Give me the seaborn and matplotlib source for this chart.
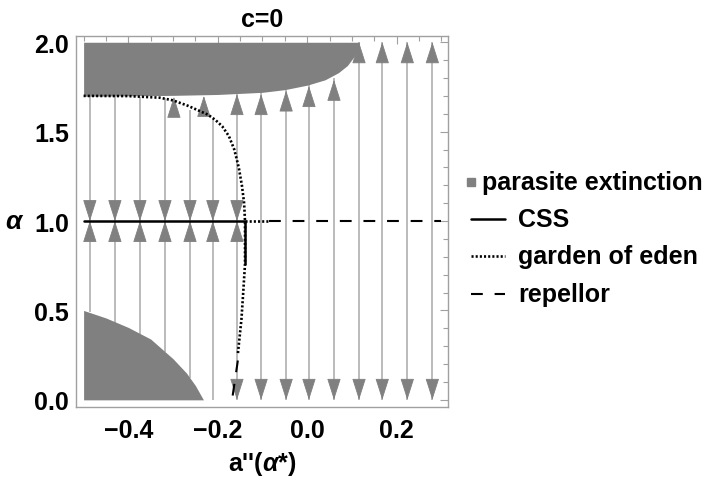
import matplotlib
matplotlib.use("Agg")
import matplotlib.pyplot as plt
from matplotlib.lines import Line2D
from matplotlib.patches import Rectangle
import seaborn as sns

# --- shaded "parasite extinction" regions ---
top_x = [-0.5, -0.3, -0.2, -0.1, -0.05, 0.0, 0.04, 0.07, 0.09, 0.105, 0.113, 0.117]
top_lo = [1.698, 1.703, 1.708, 1.72, 1.735, 1.76, 1.79, 1.83, 1.87, 1.92, 1.96, 2.0]
bot_x = [-0.5, -0.45, -0.4, -0.35, -0.3, -0.27, -0.25, -0.232]
bot_hi = [0.5, 0.458, 0.405, 0.34, 0.23, 0.15, 0.08, 0.0]

# --- curves ---
css_x = [-0.5, -0.139, -0.139]
css_a = [1.0, 1.0, 0.76]
goe_x = [-0.5, -0.4, -0.33, -0.3, -0.267, -0.24, -0.222, -0.205, -0.19, -0.175,
         -0.163, -0.153, -0.146, -0.141, -0.139, -0.139, -0.143, -0.147, -0.155]
goe_a = [1.70, 1.699, 1.69, 1.675, 1.645, 1.615, 1.595, 1.565, 1.53, 1.475,
         1.40, 1.30, 1.20, 1.10, 1.0, 0.76, 0.6, 0.45, 0.257]
goe_h_x = [-0.139, -0.085]
goe_h_a = [1.0, 1.0]
rep_h_x = [-0.085, 0.3]
rep_h_a = [1.0, 1.0]
rep_v_x = [-0.155, -0.168]
rep_v_a = [0.22, 0.0]

# --- flow lines and arrows ---
stem_x = [-0.486, -0.430, -0.374, -0.318, -0.262, -0.211, -0.157, -0.103,
          -0.047, 0.004, 0.060, 0.116, 0.168, 0.224, 0.280]
stem_lo = [0.49, 0.43, 0.37, 0.265, 0.12, 0.0, 0.0, 0.0, 0.0, 0.0, 0.0, 0.0, 0.0, 0.0, 0.0]
stem_hi = [1.70, 1.70, 1.695, 1.688, 1.62, 1.57, 1.71, 1.72, 1.735, 1.76, 1.80, 2.0, 2.0, 2.0, 2.0]
conv_x = [-0.486, -0.430, -0.374, -0.318, -0.262, -0.211, -0.157]
up_x = [-0.298, -0.231, -0.157, -0.103, -0.047, 0.004, 0.060, 0.116, 0.168, 0.224, 0.280]
up_tip = [1.695, 1.70, 1.71, 1.71, 1.73, 1.755, 1.79, 2.0, 2.0, 2.0, 2.0]
down_x = [-0.157, -0.103, -0.047, 0.004, 0.060, 0.116, 0.168, 0.224, 0.280]

legend_labels = ["parasite extinction", "CSS", "garden of eden", "repellor"]

sns.set_style("white")
plt.rcParams['font.family'] = ['Liberation Sans', 'DejaVu Sans']
plt.rcParams['font.weight'] = 'bold'
plt.rcParams['text.color'] = 'black'
plt.rcParams['axes.labelcolor'] = 'black'
plt.rcParams['mathtext.fontset'] = 'custom'
plt.rcParams['mathtext.rm'] = 'Liberation Sans'
plt.rcParams['mathtext.it'] = 'Liberation Sans:italic'
plt.rcParams['mathtext.bf'] = 'Liberation Sans:bold'
plt.rcParams['lines.scale_dashes'] = False

FS = 18
fig = plt.figure(figsize=(7.1, 4.81), dpi=100)
ax = fig.add_axes([76 / 710, 1 - 408 / 481, 372 / 710, 371 / 481])

STEM = '#a8a8a8'
HEAD = '#808080'
FILL = '#808080'
hl = 0.107  # head length in data units (about 19 px)

# flow stems
ax.vlines(stem_x, stem_lo, stem_hi, color=STEM, lw=1.1, zorder=1)

# shaded regions
ax.fill_between(top_x, top_lo, 2.0, color=FILL, lw=0, zorder=2)
ax.fill_between(bot_x, 0.0, bot_hi, color=FILL, lw=0, zorder=2)


def head(x, tip, base):
    ax.annotate("", xy=(x, tip), xytext=(x, base),
                arrowprops=dict(arrowstyle="-|>,head_length=13.8,head_width=4.4",
                                mutation_scale=1, color=HEAD, lw=0.6,
                                shrinkA=0, shrinkB=0), zorder=3)


for x in conv_x:
    head(x, 1.0, 1.0 + hl)
    head(x, 1.0, 1.0 - hl)
for x, t in zip(up_x, up_tip):
    head(x, t, t - hl)
for x in down_x:
    head(x, 0.0, hl)


def curve(xs, ys, lw, dash=None):
    sns.lineplot(x=xs, y=ys, sort=False, estimator=None, color='black', lw=lw,
                 ax=ax, zorder=5)
    if dash is not None:
        ax.lines[-1].set_dashes(dash)


# curves
curve(css_x, css_a, 1.8)
curve(goe_x, goe_a, 1.9, (1.5, 1.5))
curve(goe_h_x, goe_h_a, 1.9, (1.5, 1.5))
curve(rep_h_x, rep_h_a, 1.5, (8.5, 8.5))
curve(rep_v_x, rep_v_a, 1.5, (8.5, 8.5))

ax.set_xlim(-0.517, 0.315)
ax.set_ylim(-0.04, 2.035)

# frame and ticks
for sp in ax.spines.values():
    sp.set_color('#a0a0a0')
    sp.set_linewidth(1.0)
ax.set_xticks([-0.4, -0.2, 0.0, 0.2])
ax.set_xticklabels(['\u22120.4', '\u22120.2', '0.0', '0.2'])
ax.set_xticks([-0.5, -0.45, -0.35, -0.3, -0.25, -0.15, -0.1, -0.05, 0.05, 0.1, 0.15, 0.25, 0.3],
              minor=True)
ax.set_yticks([0.0, 0.5, 1.0, 1.5, 2.0])
ax.set_yticklabels(['0.0', '0.5', '1.0', '1.5', '2.0'])
ax.set_yticks([0.1, 0.2, 0.3, 0.4, 0.6, 0.7, 0.8, 0.9, 1.1, 1.2, 1.3, 1.4, 1.6, 1.7, 1.8, 1.9],
              minor=True)
ax.tick_params(which='both', direction='in', top=True, right=True, color='#a0a0a0',
               width=0.8, labelcolor='black')
ax.tick_params(which='major', length=6)
ax.tick_params(which='minor', length=3.5)
ax.tick_params(axis='x', which='major', labelsize=FS, pad=8)
ax.tick_params(axis='y', which='major', labelsize=FS, pad=5)
for lab in ax.get_xticklabels() + ax.get_yticklabels():
    lab.set_fontweight('bold')

ax.set_title('c=0', fontsize=FS, fontweight='bold', pad=7)
ax.set_xlabel(r"a''($\alpha$*)", fontsize=FS, fontweight='bold', labelpad=5)
ax.set_ylabel(r"$\alpha$", fontsize=FS + 1, rotation=0, va='center', ha='center')
ax.yaxis.set_label_coords(-0.165, (1.0 + 0.04) / 2.075)


# legend drawn in figure pixels
def fx(px):
    return px / 710


def fy(py):
    return 1 - py / 481


rows = [183, 220, 257, 295]
fig.add_artist(Rectangle((fx(467), fy(187)), 8 / 710, 8 / 481, color=FILL,
                         transform=fig.transFigure))
fig.text(fx(482), fy(rows[0]), legend_labels[0], fontsize=FS, fontweight='bold', va='center')
styles = [(None, 1.8), ((1.5, 1.5), 1.9), ((8.5, 8.5), 1.5)]
for i, (dash, lw) in enumerate(styles):
    y = fy(rows[i + 1])
    ln = Line2D([fx(471), fx(505)], [y, y], color='black', lw=lw, transform=fig.transFigure)
    if dash is not None:
        ln.set_dashes(dash)
    fig.add_artist(ln)
    fig.text(fx(518), y, legend_labels[i + 1], fontsize=FS, fontweight='bold', va='center')

fig.savefig('out.png', dpi=100)
